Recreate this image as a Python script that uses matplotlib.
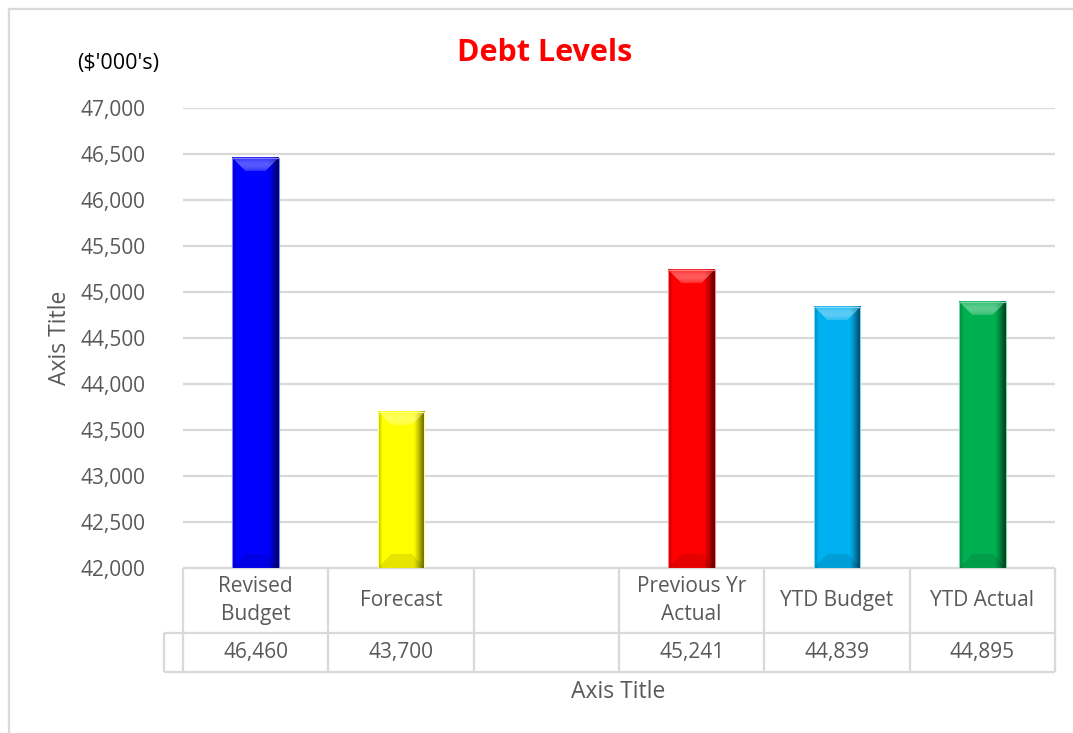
import numpy as np
import matplotlib
matplotlib.use("Agg")
import matplotlib.pyplot as plt
from matplotlib.colors import to_rgb
from matplotlib.lines import Line2D

# Debt levels by source (in $'000s)
categories = ["Revised\nBudget", "Forecast", "", "Previous Yr\nActual", "YTD Budget", "YTD Actual"]
values = [46460, 43700, None, 45241, 44839, 44895]
bar_colors = ["#0000FF", "#FFFF00", None, "#FF0000", "#00B0F0", "#00B050"]
y_ticks = [42000, 42500, 43000, 43500, 44000, 44500, 45000, 45500, 46000, 46500, 47000]

FONT = "Open Sans"
TXT = "#595959"
GRID = "#D9D9D9"
FS = 15

W, H, DPI = 1073, 733, 100
fig = plt.figure(figsize=(W / DPI, H / DPI), dpi=DPI)
fig.patch.set_facecolor("white")

x0, x1 = 183, 1055
ytop, ybot = 108, 568
ax = fig.add_axes([x0 / W, 1 - ybot / H, (x1 - x0) / W, (ybot - ytop) / H])
ax.set_xlim(-0.5, len(categories) - 0.5)
ax.set_ylim(y_ticks[0], y_ticks[-1])
for s in ax.spines.values():
    s.set_visible(False)
ax.set_yticks(y_ticks)
ax.set_yticklabels([f"{v:,}" for v in y_ticks], fontsize=FS, color=TXT, family=FONT)
ax.tick_params(axis="y", length=0, pad=27)
ax.set_xticks([])
ax.yaxis.grid(True, color=GRID, linewidth=1.6)
ax.set_axisbelow(True)

fig.canvas.draw()


def bevel_image(color, wpx, hpx):
    """Build an RGB array for a bevelled bar face."""
    base = np.array(to_rgb(color))
    img = np.tile(base, (hpx, wpx, 1)).astype(float)
    b = 14  # bevel size in px
    cols = np.arange(wpx)
    # right edge shading
    rs = 12
    ramp = np.clip((cols - (wpx - rs)) / rs, 0, 1)
    fac = 1 - 0.72 * ramp ** 1.3
    # left edge slight shading
    fac = fac * (1 - 0.25 * np.clip(1 - cols / 4, 0, 1))
    img = img * fac[None, :, None]
    # top bevel (mitred trapezoid), lighter
    for r in range(min(b, hpx)):
        c0, c1 = r, wpx - r
        if c1 <= c0:
            break
        t = r / b
        mix = 0.15 + 0.2 * np.sin(np.pi * t)
        row = base * (1 - mix) + mix
        img[r, c0:c1] = row * fac[c0:c1, None] ** 0.5
    # bottom bevel, a touch darker
    for r in range(min(b, hpx)):
        rr = hpx - 1 - r
        c0, c1 = r, wpx - r
        if c1 <= c0:
            break
        img[rr, c0:c1] = img[rr, c0:c1] * 0.9
    return np.clip(img, 0, 1)


bar_w = 0.32
for i, (v, c) in enumerate(zip(values, bar_colors)):
    if v is None:
        continue
    left, right = i - bar_w / 2, i + bar_w / 2
    p0 = ax.transData.transform((left, y_ticks[0]))
    p1 = ax.transData.transform((right, v))
    wpx = max(int(round(p1[0] - p0[0])), 2)
    hpx = max(int(round(p1[1] - p0[1])), 2)
    ax.imshow(bevel_image(c, wpx, hpx), extent=(left, right, y_ticks[0], v),
              aspect="auto", interpolation="bilinear", zorder=3)
    edge = np.array(to_rgb(c)) * 0.5 + 0.5
    ax.bar(i, v - y_ticks[0], bottom=y_ticks[0], width=bar_w, facecolor="none",
           edgecolor=edge, linewidth=0.8, zorder=4)
ax.set_xlim(-0.5, len(categories) - 0.5)
ax.set_ylim(y_ticks[0], y_ticks[-1])

# Data table beneath the axis
n = len(categories)
tr = ax.get_xaxis_transform()
row1_bot = -(633 - ybot) / (ybot - ytop)
row2_bot = -(672 - ybot) / (ybot - ytop)
key_left = -0.5 - (183 - 164) / ((x1 - x0) / n)
lw = 1.6
line_kw = dict(color=GRID, linewidth=lw, clip_on=False, transform=tr, solid_capstyle="butt")
ax.add_line(Line2D([-0.5, n - 0.5], [0, 0], **line_kw))
ax.add_line(Line2D([key_left, n - 0.5], [row1_bot, row1_bot], **line_kw))
ax.add_line(Line2D([key_left, n - 0.5], [row2_bot, row2_bot], **line_kw))
ax.add_line(Line2D([key_left, key_left], [row1_bot, row2_bot], **line_kw))
for k in range(n + 1):
    ax.add_line(Line2D([k - 0.5, k - 0.5], [0, row2_bot], **line_kw))

for i, (cat, v) in enumerate(zip(categories, values)):
    ax.text(i, row1_bot / 2, cat, transform=tr, ha="center", va="center",
            fontsize=FS, color=TXT, family=FONT, linespacing=1.45)
    if v is not None:
        ax.text(i, (row1_bot + row2_bot) / 2, f"{v:,}", transform=tr, ha="center",
                va="center", fontsize=FS, color=TXT, family=FONT)

# Titles and labels
fig.text(545 / W, 1 - 53 / H, "Debt Levels", ha="center", va="center",
         fontsize=22, fontweight="bold", color="#FF0000", family=FONT)
fig.text(118 / W, 1 - 63 / H, "($'000's)", ha="center", va="center",
         fontsize=15.5, color="black", family=FONT)
fig.text(60 / W, 1 - 338 / H, "Axis Title", ha="center", va="center", rotation=90,
         fontsize=16.5, color=TXT, family=FONT)
fig.text(618 / W, 1 - 692 / H, "Axis Title", ha="center", va="center",
         fontsize=16.5, color=TXT, family=FONT)

# Chart area frame (left and top edges)
fig.add_artist(Line2D([8.5 / W, 8.5 / W], [0, 1 - 8.5 / H], color=GRID, linewidth=1.6,
                      transform=fig.transFigure))
fig.add_artist(Line2D([8.5 / W, 1], [1 - 8.5 / H, 1 - 8.5 / H], color=GRID, linewidth=1.6,
                      transform=fig.transFigure))

fig.savefig("out.png", dpi=DPI)
